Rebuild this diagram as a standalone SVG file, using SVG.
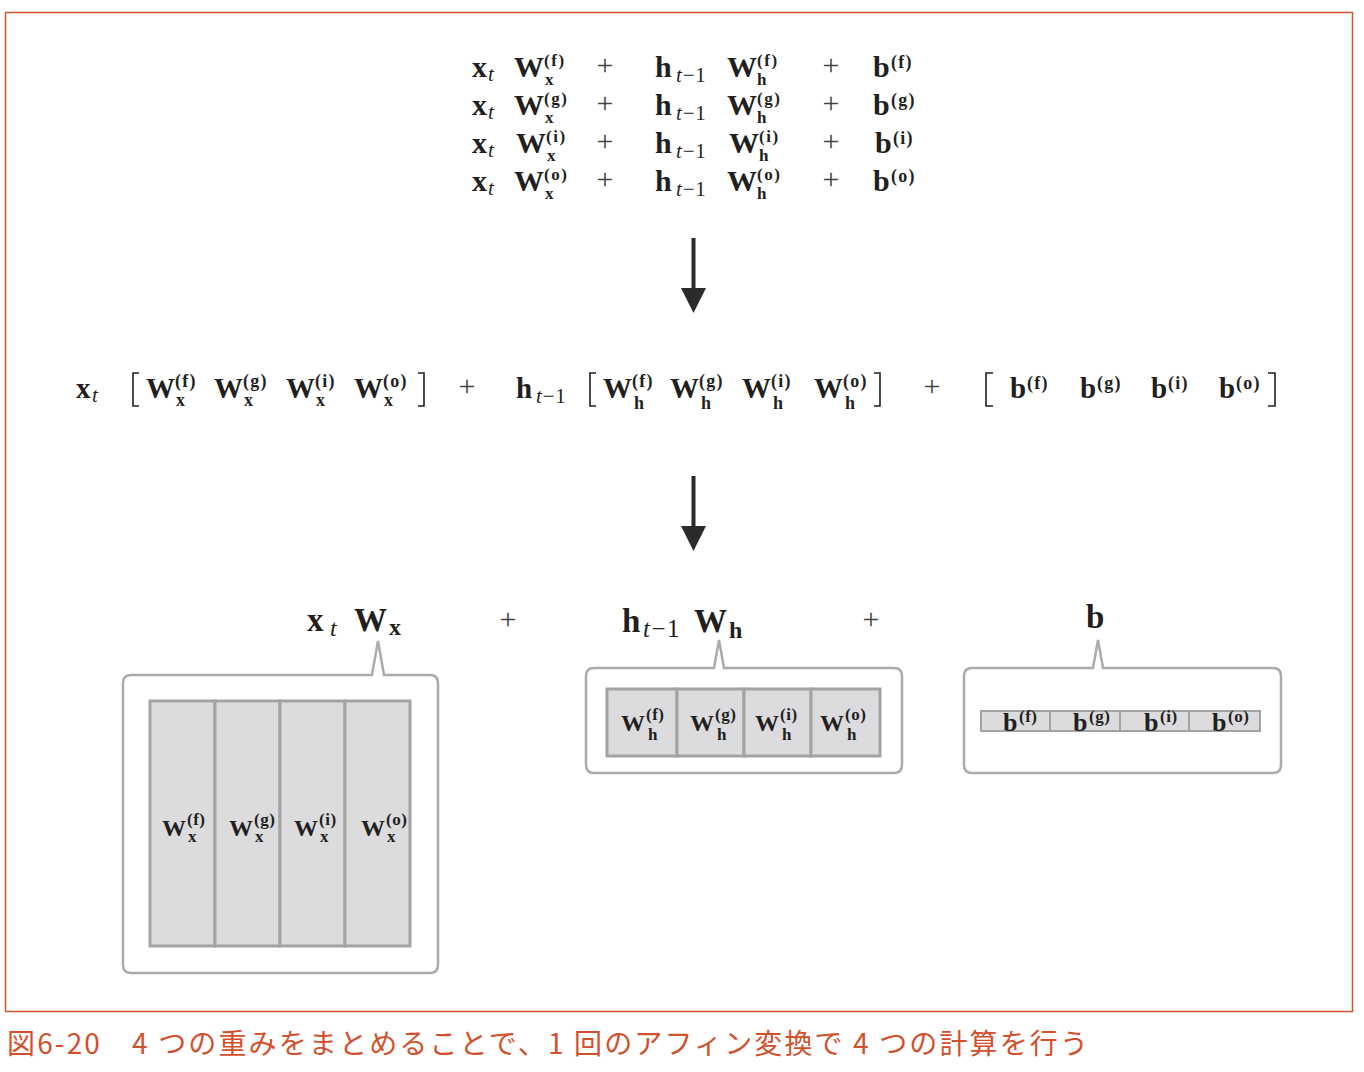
<svg xmlns="http://www.w3.org/2000/svg" width="1364" height="1072" viewBox="0 0 1364 1072">
<style>
.b{font-family:"Liberation Serif","DejaVu Serif",serif;font-weight:bold;fill:#231f20}
.i{font-family:"Liberation Serif","DejaVu Serif",serif;font-style:italic;fill:#231f20}
.n{font-style:normal}
.op{font-family:"Liberation Serif","DejaVu Serif",serif;fill:#444}
.L{font-size:30px}
.S{font-size:18px;letter-spacing:1.2px}
.U{font-size:17px;letter-spacing:1.6px}
.T{font-size:21px;letter-spacing:0.8px}
.M{font-size:29px}
.BL{font-size:33px}
.BS{font-size:24px}
.c1{font-size:24px}
.cs{font-size:17px;letter-spacing:0.5px}
.cell{fill:#dcdcde;stroke:#a3a3a3;stroke-width:3}
.call{fill:#fff;stroke:#ababab;stroke-width:2.5}
.brk{fill:none;stroke:#231f20;stroke-width:1.6}
.cap{font-family:"Noto Sans CJK JP","Noto Sans",sans-serif;font-size:28px;fill:#d2502c}
</style>
<rect x="0" y="0" width="1364" height="1072" fill="#fff"/>
<rect x="5.5" y="12.5" width="1347" height="999" fill="none" stroke="#d2502c" stroke-width="1.5"/>

<g id="separate-equations">
<g id="row-f" transform="translate(0,77)">
<text class="b L" x="472" y="0">x</text><text class="i T" x="488" y="4">t</text>
<text class="b L" x="514" y="0">W</text><text class="b U"><tspan x="544" y="-11">(f)</tspan><tspan x="545" y="7.5">x</tspan></text>
<text class="op L" x="605" y="-2" text-anchor="middle">+</text>
<text class="b L" x="655" y="0">h</text><text class="i T" x="676" y="5">t<tspan class="n">−1</tspan></text>
<text class="b L" x="727" y="0">W</text><text class="b U"><tspan x="757" y="-11">(f)</tspan><tspan x="757" y="7.5">h</tspan></text>
<text class="op L" x="831" y="-2" text-anchor="middle">+</text>
<text class="b L" x="873" y="0">b</text><text class="b S" x="891" y="-9">(f)</text>
</g>
<g id="row-g" transform="translate(0,115)">
<text class="b L" x="472" y="0">x</text><text class="i T" x="488" y="4">t</text>
<text class="b L" x="514" y="0">W</text><text class="b U"><tspan x="544" y="-11">(g)</tspan><tspan x="545" y="7.5">x</tspan></text>
<text class="op L" x="605" y="-2" text-anchor="middle">+</text>
<text class="b L" x="655" y="0">h</text><text class="i T" x="676" y="5">t<tspan class="n">−1</tspan></text>
<text class="b L" x="727" y="0">W</text><text class="b U"><tspan x="757" y="-11">(g)</tspan><tspan x="757" y="7.5">h</tspan></text>
<text class="op L" x="831" y="-2" text-anchor="middle">+</text>
<text class="b L" x="873" y="0">b</text><text class="b S" x="891" y="-9">(g)</text>
</g>
<g id="row-i" transform="translate(0,153)">
<text class="b L" x="472" y="0">x</text><text class="i T" x="488" y="4">t</text>
<text class="b L" x="516" y="0">W</text><text class="b U"><tspan x="546" y="-11">(i)</tspan><tspan x="547" y="7.5">x</tspan></text>
<text class="op L" x="605" y="-2" text-anchor="middle">+</text>
<text class="b L" x="655" y="0">h</text><text class="i T" x="676" y="5">t<tspan class="n">−1</tspan></text>
<text class="b L" x="729" y="0">W</text><text class="b U"><tspan x="759" y="-11">(i)</tspan><tspan x="759" y="7.5">h</tspan></text>
<text class="op L" x="831" y="-2" text-anchor="middle">+</text>
<text class="b L" x="875" y="0">b</text><text class="b S" x="893" y="-9">(i)</text>
</g>
<g id="row-o" transform="translate(0,191)">
<text class="b L" x="472" y="0">x</text><text class="i T" x="488" y="4">t</text>
<text class="b L" x="514" y="0">W</text><text class="b U"><tspan x="544" y="-11">(o)</tspan><tspan x="545" y="7.5">x</tspan></text>
<text class="op L" x="605" y="-2" text-anchor="middle">+</text>
<text class="b L" x="655" y="0">h</text><text class="i T" x="676" y="5">t<tspan class="n">−1</tspan></text>
<text class="b L" x="727" y="0">W</text><text class="b U"><tspan x="757" y="-11">(o)</tspan><tspan x="757" y="7.5">h</tspan></text>
<text class="op L" x="831" y="-2" text-anchor="middle">+</text>
<text class="b L" x="873" y="0">b</text><text class="b S" x="891" y="-9">(o)</text>
</g>
</g>

<g id="concatenated-equation" transform="translate(0,398)">
<text class="b M" x="76" y="0">x</text><text class="i T" x="92" y="4">t</text>
<path class="brk" d="M139,-25 H133 V8 H139"/>
<text class="b M" x="146" y="0">W</text><text class="b S"><tspan x="175" y="-11">(f)</tspan><tspan x="176" y="8">x</tspan></text>
<text class="b M" x="214" y="0">W</text><text class="b S"><tspan x="243" y="-11">(g)</tspan><tspan x="244" y="8">x</tspan></text>
<text class="b M" x="286" y="0">W</text><text class="b S"><tspan x="315" y="-11">(i)</tspan><tspan x="316" y="8">x</tspan></text>
<text class="b M" x="354" y="0">W</text><text class="b S"><tspan x="383" y="-11">(o)</tspan><tspan x="384" y="8">x</tspan></text>
<path class="brk" d="M418,-25 H424 V8 H418"/>
<text class="op L" x="467" y="-2" text-anchor="middle">+</text>
<text class="b M" x="516" y="0">h</text><text class="i T" x="536" y="5">t<tspan class="n">−1</tspan></text>
<path class="brk" d="M596,-25 H590 V8 H596"/>
<text class="b M" x="603" y="0">W</text><text class="b S"><tspan x="632" y="-11">(f)</tspan><tspan x="634" y="11">h</tspan></text>
<text class="b M" x="670" y="0">W</text><text class="b S"><tspan x="699" y="-11">(g)</tspan><tspan x="701" y="11">h</tspan></text>
<text class="b M" x="742" y="0">W</text><text class="b S"><tspan x="771" y="-11">(i)</tspan><tspan x="773" y="11">h</tspan></text>
<text class="b M" x="814" y="0">W</text><text class="b S"><tspan x="843" y="-11">(o)</tspan><tspan x="845" y="11">h</tspan></text>
<path class="brk" d="M874,-25 H880 V8 H874"/>
<text class="op L" x="932" y="-2" text-anchor="middle">+</text>
<path class="brk" d="M993,-25 H986 V8 H993"/>
<text class="b M" x="1010" y="0">b</text><text class="b S" x="1027" y="-9">(f)</text>
<text class="b M" x="1080" y="0">b</text><text class="b S" x="1097" y="-9">(g)</text>
<text class="b M" x="1151" y="0">b</text><text class="b S" x="1168" y="-9">(i)</text>
<text class="b M" x="1219" y="0">b</text><text class="b S" x="1236" y="-9">(o)</text>
<path class="brk" d="M1268,-25 H1275 V8 H1268"/>
</g>

<g id="connectors">
<line x1="693.5" y1="238" x2="693.5" y2="292" stroke="#2b2b2b" stroke-width="4"/>
<polygon points="681,288 706,288 693.5,313" fill="#2b2b2b"/>
<line x1="693.5" y1="476" x2="693.5" y2="530" stroke="#2b2b2b" stroke-width="4"/>
<polygon points="681,526 706,526 693.5,551" fill="#2b2b2b"/>
</g>

<g id="plus-signs">
<text class="op L" x="508" y="629" text-anchor="middle">+</text>
<text class="op L" x="871" y="629" text-anchor="middle">+</text>
</g>

<g id="xW-block">
<text class="b BL" x="307" y="631">x</text><text class="i BS" x="330" y="636">t</text>
<text class="b BL" x="354" y="631">W</text><text class="b BS" x="389" y="635">x</text>
<path class="call" d="M131,675 H372 L378,641 L384,675 H430 Q438,675 438,683 V965 Q438,973 430,973 H131 Q123,973 123,965 V683 Q123,675 131,675 Z"/>
<rect class="cell" x="150" y="701" width="65" height="245"/>
<rect class="cell" x="215" y="701" width="65" height="245"/>
<rect class="cell" x="280" y="701" width="65" height="245"/>
<rect class="cell" x="345" y="701" width="65" height="245"/>
<text class="b c1" x="162" y="836">W</text><text class="b cs"><tspan x="187" y="825">(f)</tspan><tspan x="188" y="842">x</tspan></text>
<text class="b c1" x="229" y="836">W</text><text class="b cs"><tspan x="254" y="825">(g)</tspan><tspan x="255" y="842">x</tspan></text>
<text class="b c1" x="294" y="836">W</text><text class="b cs"><tspan x="319" y="825">(i)</tspan><tspan x="320" y="842">x</tspan></text>
<text class="b c1" x="361" y="836">W</text><text class="b cs"><tspan x="386" y="825">(o)</tspan><tspan x="387" y="842">x</tspan></text>
</g>

<g id="hW-block">
<text class="b BL" x="622" y="632">h</text><text class="i BS" x="643" y="637" style="font-size:25px;letter-spacing:1.5px">t<tspan class="n">−1</tspan></text>
<text class="b BL" x="694" y="632">W</text><text class="b BS" x="729" y="638">h</text>
<path class="call" d="M594,668 H714 L719,640 L724,668 H894 Q902,668 902,676 V765 Q902,773 894,773 H594 Q586,773 586,765 V676 Q586,668 594,668 Z"/>
<rect class="cell" x="607" y="689" width="70" height="67"/>
<rect class="cell" x="677" y="689" width="67" height="67"/>
<rect class="cell" x="744" y="689" width="67" height="67"/>
<rect class="cell" x="811" y="689" width="69" height="67"/>
<text class="b c1" x="621" y="731">W</text><text class="b cs"><tspan x="646" y="720">(f)</tspan><tspan x="648" y="740">h</tspan></text>
<text class="b c1" x="690" y="731">W</text><text class="b cs"><tspan x="715" y="720">(g)</tspan><tspan x="717" y="740">h</tspan></text>
<text class="b c1" x="755" y="731">W</text><text class="b cs"><tspan x="780" y="720">(i)</tspan><tspan x="782" y="740">h</tspan></text>
<text class="b c1" x="820" y="731">W</text><text class="b cs"><tspan x="845" y="720">(o)</tspan><tspan x="847" y="740">h</tspan></text>
</g>

<g id="b-block">
<text class="b BL" x="1086" y="628">b</text>
<path class="call" d="M972,668 H1093 L1098,640 L1103,668 H1273 Q1281,668 1281,676 V765 Q1281,773 1273,773 H972 Q964,773 964,765 V676 Q964,668 972,668 Z"/>
<rect class="cell" x="981" y="711" width="69" height="20" style="stroke-width:2"/>
<rect class="cell" x="1050" y="711" width="70" height="20" style="stroke-width:2"/>
<rect class="cell" x="1120" y="711" width="69" height="20" style="stroke-width:2"/>
<rect class="cell" x="1189" y="711" width="71" height="20" style="stroke-width:2"/>
<text class="b c1" x="1003" y="731" style="font-size:26px">b</text><text class="b cs" x="1019" y="722">(f)</text>
<text class="b c1" x="1073" y="731" style="font-size:26px">b</text><text class="b cs" x="1089" y="722">(g)</text>
<text class="b c1" x="1144" y="731" style="font-size:26px">b</text><text class="b cs" x="1160" y="722">(i)</text>
<text class="b c1" x="1212" y="731" style="font-size:26px">b</text><text class="b cs" x="1228" y="722">(o)</text>
</g>

<text class="cap" x="7" y="1054" textLength="1081" lengthAdjust="spacing">図6-20　4 つの重みをまとめることで、1 回のアフィン変換で 4 つの計算を行う</text>
</svg>
